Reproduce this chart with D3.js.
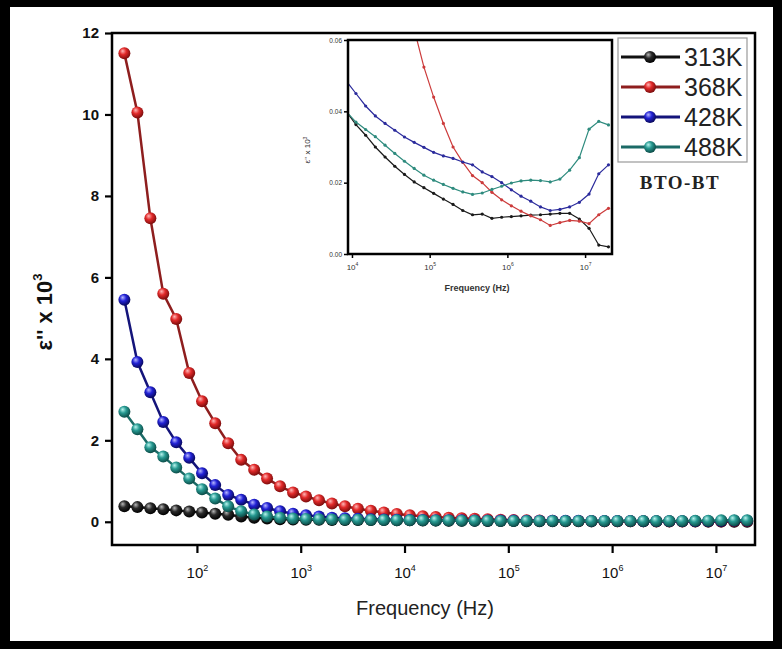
<!DOCTYPE html>
<html>
<head>
<meta charset="utf-8">
<script src="https://cdn.jsdelivr.net/npm/d3@7"></script>
<style>
   body { margin: 0; background: #fff; }
   svg { display: block; }
</style>
</head>
<body>
<svg width="782" height="649"></svg>
<script>
// frequency grid (Hz), 8 points per decade
const freq = [
   20, 26.7, 35.6, 47.4, 63.2, 84.3, 112, 150,
   200, 267, 356, 474, 632, 843, 1125, 1500,
   2000, 2667, 3557, 4743, 6325, 8434, 11247, 15000,
   20000, 26670, 35570, 47430, 63250, 84340, 112470, 150000,
   200000, 266700, 355700, 474300, 632500, 843400, 1124700, 1500000,
   2000000, 2667000, 3557000, 4743000, 6325000, 8434000, 11247000, 15000000,
   20000000
];

// eps'' x 10^3
const k313 = [
   0.38, 0.36, 0.33, 0.31, 0.28, 0.25, 0.23, 0.20, 0.17, 0.13, 0.10, 0.08, 0.065, 0.055, 0.050, 0.047,
   0.045, 0.044, 0.043, 0.042, 0.041,
   0.040, 0.0363, 0.0333, 0.030, 0.0272, 0.0246, 0.0223, 0.0202, 0.0186, 0.017, 0.0154, 0.0139,
   0.0122, 0.011, 0.0112, 0.0100, 0.0103, 0.0105, 0.0107, 0.0109, 0.011, 0.0112, 0.0114, 0.0114,
   0.0098, 0.0072, 0.0025, 0.002
];
const k368 = [
   11.5, 10.05, 7.45, 5.6, 4.98, 3.65, 2.96, 2.42, 1.93, 1.52, 1.28, 1.06, 0.87, 0.72, 0.62, 0.53,
   0.45, 0.38, 0.32, 0.27, 0.23, 0.19, 0.16, 0.135, 0.115, 0.098, 0.085, 0.074, 0.063,
   0.0524, 0.044, 0.0366, 0.030, 0.0257, 0.022, 0.020, 0.0173, 0.0152, 0.0135, 0.012, 0.0107,
   0.0096, 0.008, 0.0088, 0.0094, 0.0092, 0.0085, 0.011, 0.0128
];
const k428 = [
   5.45, 3.92, 3.18, 2.45, 1.95, 1.57, 1.19, 0.9, 0.66, 0.54, 0.42, 0.34, 0.26, 0.2, 0.16, 0.13,
   0.1, 0.085, 0.072, 0.062, 0.055,
   0.0485, 0.045, 0.0415, 0.0387, 0.0366, 0.0347, 0.0328, 0.0313, 0.0299, 0.0285, 0.0275, 0.0268,
   0.0258, 0.025, 0.023, 0.0217, 0.020, 0.018, 0.0162, 0.0148, 0.0132, 0.0122, 0.0125, 0.0132,
   0.0145, 0.0168, 0.0225, 0.025
];
const k488 = [
   2.7, 2.27, 1.83, 1.6, 1.33, 1.06, 0.8, 0.57, 0.38, 0.26, 0.18, 0.13, 0.1, 0.08, 0.07, 0.062,
   0.056, 0.051, 0.047, 0.044, 0.042,
   0.040, 0.037, 0.0349, 0.0329, 0.0305, 0.0282, 0.026, 0.024, 0.0221, 0.0207, 0.0195, 0.0184,
   0.0174, 0.0167, 0.0171, 0.0181, 0.019, 0.0199, 0.0205, 0.0207, 0.0206, 0.0202, 0.021, 0.0235,
   0.027, 0.035, 0.0372, 0.0362
];

const seriesNames = ["313K", "368K", "428K", "488K"];
const yTicks = [0, 2, 4, 6, 8, 10, 12];
const xTickExp = [2, 3, 4, 5, 6, 7];
const insetYTicks = [0, 0.02, 0.04, 0.06];
const insetXTickExp = [4, 5, 6, 7];
const insetFirst = 21; // first grid index shown in the inset

const allSeries = [k313, k368, k428, k488];

// styles
const styles = [
   { id: "gBlack", light: "#b8b8b8", mid: "#2a2a2a", dark: "#000", line: "#111", inset: "#1a1a1a" },
   { id: "gRed", light: "#ffb8b8", mid: "#e22a2a", dark: "#7a0c0c", line: "#8e1e1e", inset: "#cc3b3b" },
   { id: "gBlue", light: "#b8b8ff", mid: "#2222d6", dark: "#08085a", line: "#14147a", inset: "#2b2b9c" },
   { id: "gTeal", light: "#b8f4ee", mid: "#279a92", dark: "#0b4a46", line: "#1b6a66", inset: "#2e8b7e" }
];

const svg = d3.select("svg");
const defs = svg.append("defs");
styles.forEach(s => {
   const g = defs.append("radialGradient").attr("id", s.id)
      .attr("cx", "42%").attr("cy", "38%").attr("r", "62%")
      .attr("fx", "35%").attr("fy", "30%");
   g.append("stop").attr("offset", "0%").attr("stop-color", s.light);
   g.append("stop").attr("offset", "45%").attr("stop-color", s.mid);
   g.append("stop").attr("offset", "100%").attr("stop-color", s.dark);
});

// outer black frame
svg.append("rect").attr("width", 782).attr("height", 649).attr("fill", "#000");
svg.append("rect").attr("x", 10).attr("y", 7).attr("width", 763).attr("height", 634).attr("fill", "#fff");

// ---------- main chart ----------
const area = { left: 112, right: 755, top: 33, bottom: 545 };
const scX = d3.scaleLog().domain([15.2, 2.38e7]).range([area.left, area.right]);
const scY = d3.scaleLinear().domain([-0.57, 12]).range([area.bottom, area.top]);

const gy = svg.append("g").attr("transform", `translate(${area.left},0)`)
   .call(d3.axisLeft(scY).tickValues(yTicks).tickSize(7).tickPadding(6).tickFormat(d3.format("d")));
gy.select(".domain").remove();
gy.selectAll(".tick line").attr("stroke", "#000").attr("stroke-width", 2.2);
gy.selectAll(".tick text")
   .style("font", "bold 15px 'Liberation Sans', Arial, sans-serif").attr("fill", "#111");

const gx = svg.append("g").attr("transform", `translate(0,${area.bottom})`)
   .call(d3.axisBottom(scX).tickValues(xTickExp.map(e => Math.pow(10, e))).tickSize(8).tickFormat(""));
gx.select(".domain").remove();
gx.selectAll(".tick line").attr("stroke", "#000").attr("stroke-width", 2.2);
gx.selectAll(".tick").append("text")
   .attr("y", 33).attr("text-anchor", "middle").attr("fill", "#111")
   .style("font", "15px 'Liberation Sans', Arial, sans-serif")
   .each(function(d) {
      const t = d3.select(this);
      t.append("tspan").text("10");
      t.append("tspan").attr("dy", -7).style("font-size", "9px").text(Math.round(Math.log10(d)));
   });

svg.append("rect")
   .attr("x", area.left).attr("y", area.top)
   .attr("width", area.right - area.left).attr("height", area.bottom - area.top)
   .attr("fill", "none").attr("stroke", "#000").attr("stroke-width", 2.5);

svg.append("text")
   .attr("x", 425).attr("y", 615).attr("text-anchor", "middle").attr("fill", "#222")
   .style("font", "20px 'Liberation Sans', Arial, sans-serif")
   .text("Frequency (Hz)");

const ylab = svg.append("text")
   .attr("transform", "translate(52,312) rotate(-90)")
   .attr("text-anchor", "middle").attr("fill", "#111")
   .style("font", "bold 22px 'Liberation Sans', Arial, sans-serif");
ylab.append("tspan").text("ε'' x 10");
ylab.append("tspan").attr("dy", -10).style("font-size", "13px").text("3");

const mainLine = d3.line().x((d, i) => scX(freq[i])).y(d => scY(d));
allSeries.forEach((vals, k) => {
   const s = styles[k];
   svg.append("path").datum(vals).attr("d", mainLine)
      .attr("fill", "none").attr("stroke", s.line).attr("stroke-width", 2.5);
   svg.selectAll(".ball" + k).data(vals).enter().append("circle")
      .attr("class", "ball" + k)
      .attr("cx", (d, i) => scX(freq[i])).attr("cy", d => scY(d)).attr("r", 6)
      .attr("fill", `url(#${s.id})`);
});

// ---------- legend ----------
const leg = svg.append("g");
leg.append("rect").attr("x", 618).attr("y", 38).attr("width", 129).attr("height", 124)
   .attr("fill", "#fff").attr("stroke", "#999").attr("stroke-width", 1.2);
seriesNames.forEach((name, k) => {
   const y = 57 + k * 30;
   const s = styles[k];
   leg.append("line").attr("x1", 621).attr("x2", 680).attr("y1", y).attr("y2", y)
      .attr("stroke", s.line).attr("stroke-width", 3);
   leg.append("circle").attr("cx", 650).attr("cy", y).attr("r", 6).attr("fill", `url(#${s.id})`);
   leg.append("text").attr("x", 684).attr("y", y + 9).attr("fill", "#222")
      .style("font", "25px 'Liberation Sans', Arial, sans-serif").text(name);
});
svg.append("text").attr("x", 680).attr("y", 189).attr("text-anchor", "middle").attr("fill", "#222")
   .style("font", "bold 19px 'Liberation Serif', 'Times New Roman', serif")
   .style("letter-spacing", "1.5px")
   .text("BTO-BT");

// ---------- inset ----------
const ins = { left: 348, right: 612, top: 40, bottom: 254 };
const inX = d3.scaleLog().domain([8890, 2.22e7]).range([ins.left, ins.right]);
const inY = d3.scaleLinear().domain([0, 0.06]).range([ins.bottom, ins.top]);

svg.append("rect").attr("x", ins.left).attr("y", ins.top)
   .attr("width", ins.right - ins.left).attr("height", ins.bottom - ins.top).attr("fill", "#fff");

defs.append("clipPath").attr("id", "insClip").append("rect")
   .attr("x", ins.left).attr("y", ins.top)
   .attr("width", ins.right - ins.left).attr("height", ins.bottom - ins.top);

const iy = svg.append("g").attr("transform", `translate(${ins.left},0)`)
   .call(d3.axisLeft(inY).tickValues(insetYTicks).tickSize(4).tickPadding(2).tickFormat(d3.format(".2f")));
iy.select(".domain").remove();
iy.selectAll(".tick line").attr("stroke", "#000").attr("stroke-width", 1.5);
iy.selectAll(".tick text").style("font", "6.5px 'Liberation Sans', Arial, sans-serif").attr("fill", "#333");

const ix = svg.append("g").attr("transform", `translate(0,${ins.bottom})`)
   .call(d3.axisBottom(inX).tickValues(insetXTickExp.map(e => Math.pow(10, e))).tickSize(4).tickFormat(""));
ix.select(".domain").remove();
ix.selectAll(".tick line").attr("stroke", "#000").attr("stroke-width", 1.5);
ix.selectAll(".tick").append("text")
   .attr("y", 16).attr("text-anchor", "middle").attr("fill", "#333")
   .style("font", "8px 'Liberation Sans', Arial, sans-serif")
   .each(function(d) {
      const t = d3.select(this);
      t.append("tspan").text("10");
      t.append("tspan").attr("dy", -4).style("font-size", "5px").text(Math.round(Math.log10(d)));
   });

svg.append("text").attr("x", 477).attr("y", 291).attr("text-anchor", "middle").attr("fill", "#333")
   .style("font", "bold 9px 'Liberation Sans', Arial, sans-serif").text("Frequency (Hz)");

const iyl = svg.append("text").attr("transform", "translate(310,150) rotate(-90)")
   .attr("text-anchor", "middle").attr("fill", "#333")
   .style("font", "8px 'Liberation Sans', Arial, sans-serif");
iyl.append("tspan").text("ε'' x 10");
iyl.append("tspan").attr("dy", -3).style("font-size", "5px").text("3");

const insG = svg.append("g").attr("clip-path", "url(#insClip)");
const insLine = d3.line().x(d => inX(d[0])).y(d => inY(d[1]));
allSeries.forEach((vals, k) => {
   const pts = vals.map((v, i) => [freq[i], v]).slice(insetFirst);
   const col = styles[k].inset;
   insG.append("path").datum(pts).attr("d", insLine)
      .attr("fill", "none").attr("stroke", col).attr("stroke-width", 1.2);
   insG.selectAll(".idot" + k).data(pts).enter().append("circle")
      .attr("class", "idot" + k)
      .attr("cx", d => inX(d[0])).attr("cy", d => inY(d[1])).attr("r", 1.6)
      .attr("fill", col);
});

svg.append("rect").attr("x", ins.left).attr("y", ins.top)
   .attr("width", ins.right - ins.left).attr("height", ins.bottom - ins.top)
   .attr("fill", "none").attr("stroke", "#000").attr("stroke-width", 2.5);
</script>
</body>
</html>
